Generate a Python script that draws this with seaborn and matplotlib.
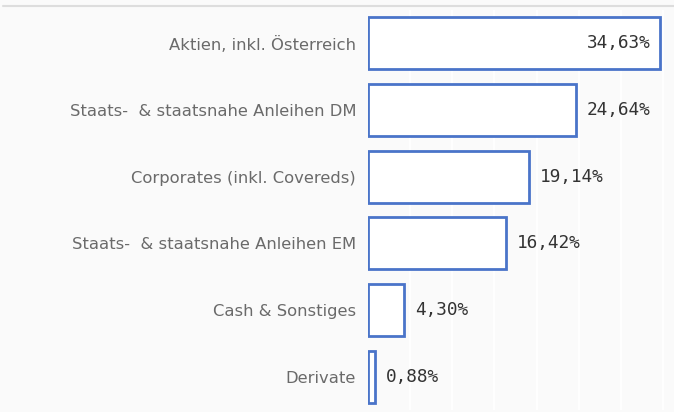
import pandas as pd
import matplotlib.pyplot as plt
import seaborn as sns

# Daten
kategorien = ['Aktien, inkl. Österreich', 'Staats-  & staatsnahe Anleihen DM',
              'Corporates (inkl. Covereds)', 'Staats-  & staatsnahe Anleihen EM',
              'Cash & Sonstiges', 'Derivate']
anteile = [34.63, 24.64, 19.14, 16.42, 4.30, 0.88]

df = pd.DataFrame({'kategorie': kategorien, 'anteil': anteile})

sns.set_style('white')
plt.rcParams['font.family'] = ['DejaVu Sans']

fig = plt.figure(figsize=(6.74, 4.12), dpi=100, facecolor='#fafafa')
ax = fig.add_axes([368 / 674, 2 / 412, 306 / 674, 400 / 412])
ax.set_facecolor('#fafafa')

blau = '#4a74c9'
sns.barplot(data=df, x='anteil', y='kategorie', orient='h', width=0.78,
            facecolor='white', edgecolor=blau, linewidth=2, ax=ax)

ax.set_xlim(0, 36.3)
ax.set_ylim(5.5, -0.5)
ax.set_xlabel('')
ax.set_ylabel('')
ax.set_xticks(range(5, 36, 5))
ax.set_xticklabels([])
ax.grid(axis='x', color='#ffffff', linewidth=1.2)
ax.set_axisbelow(True)
ax.tick_params(axis='y', length=0, pad=8.5, labelsize=11.8, labelcolor='#6a6a6a')
ax.tick_params(axis='x', length=0)
for s in ax.spines.values():
    s.set_visible(False)

# Werte beschriften
for i, v in enumerate(anteile):
    txt = f'{v:.2f}%'.replace('.', ',')
    if i == 0:
        ax.annotate(txt, (v, i), xytext=(-7, 0), textcoords='offset points',
                    ha='right', va='center', family='DejaVu Sans Mono',
                    fontsize=12.8, color='#333333')
    else:
        ax.annotate(txt, (v, i), xytext=(7.5, 0), textcoords='offset points',
                    ha='left', va='center', family='DejaVu Sans Mono',
                    fontsize=12.8, color='#333333')

# graue Linie oben
fig.add_artist(plt.Line2D([3 / 674, 1], [1 - 5.5 / 412, 1 - 5.5 / 412],
                          transform=fig.transFigure, color='#dddddd', linewidth=1.5))

fig.savefig('out.png', dpi=100, facecolor=fig.get_facecolor())
